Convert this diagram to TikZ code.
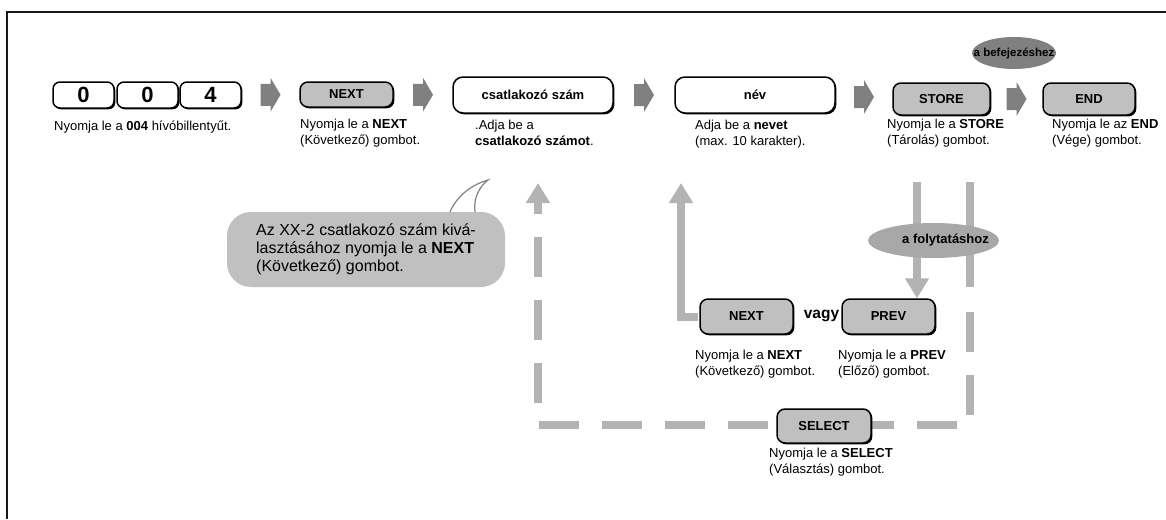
\documentclass[tikz,border=0pt]{standalone}
\usepackage{fontspec}
\setmainfont{Liberation Sans}
\usetikzlibrary{calc,arrows.meta,shadows,shapes.geometric}

\definecolor{btngray}{HTML}{C0C0C0}
\definecolor{chevgray}{HTML}{808080}
\definecolor{loopgray}{HTML}{B3B3B3}
\definecolor{ovaldark}{HTML}{808080}
\definecolor{ovallight}{HTML}{A8A8A8}

\begin{document}
\begin{tikzpicture}[x=1pt, y=-1pt,
    btn/.style={draw, line width=1.5pt, rounded corners=8pt, fill=btngray, inner sep=0pt,
        font=\fontsize{13}{13}\selectfont\bfseries,
        drop shadow={shadow xshift=1.4pt, shadow yshift=-1.4pt, fill=black, opacity=1}},
    keycap/.style={btn, fill=white, rounded corners=7pt, minimum width=61pt, minimum height=26pt,
        font=\fontsize{22}{22}\selectfont\bfseries},
    entry/.style={btn, fill=white, rounded corners=10pt, minimum width=160pt, minimum height=36pt},
    lbl/.style={anchor=north west, align=left, inner sep=0pt, font=\fontsize{13}{16}\selectfont,
        execute at begin node=\strut},
    oval/.style={ellipse, inner sep=0pt},
    fatline/.style={line width=8pt, loopgray},
    fathead/.style={-{Triangle[width=23pt,length=20pt]}}]
\useasboundingbox (0,0) rectangle (1166,519);
\draw[line width=2pt, black!90] (7,519) -- (7,12) -- (1166,12);

% back loop to the number entry
\coordinate (rtop) at (970,182);
\coordinate (rcut) at (970,287);
\coordinate (rgo) at (970,312);
\coordinate (rbot) at (970,425);
\coordinate (lbot) at (538,425);
\coordinate (lstub) at (538,210);
\coordinate (ltip) at (538,183);
\draw[fatline] (rtop) -- (rcut);
\draw[fatline, dash pattern=on 40pt off 23pt] (rgo) -- (rbot) -- (lbot) -- (lstub);
\draw[fatline, fathead] (lstub) -- (ltip);

% top row
\node[keycap] (k1) at (83.5,95) {0};
\node[keycap] (k2) at (147.5,95) {0};
\node[keycap] (k3) at (210.5,95) {4};
\node[btn, minimum width=93pt, minimum height=25pt] (next) at (346.5,94.5) {NEXT};
\node[entry] (csz) at (533,95) {csatlakozó szám};
\node[entry] (nev) at (755,95) {név};
\node[btn, minimum width=97pt, minimum height=32pt] (store) at (941.5,99) {STORE};
\node[btn, minimum width=92pt, minimum height=32pt] (endbtn) at (1089,99) {END};
\node[oval, fill=ovaldark, minimum width=84pt, minimum height=32pt,
    font=\fontsize{11.5}{11.5}\selectfont\bfseries] (fin) at (1014,53) {\makebox[0pt]{a befejezéshez}};

\foreach \a/\b in {k3/next, next/csz, csz/nev, nev/store, store/endbtn}
    \fill[chevgray] ($(\a.east)!0.5!(\b.west)$) ++(-10,-11) -- ++(10,0) -- ++(0,-6)
        -- ++(10,17) -- ++(-10,17) -- ++(0,-6) -- ++(-10,0) -- cycle;

\node[lbl] (l004) at (54,119) {Nyomja le a \textbf{004} hívóbillentyűt.};
\node[lbl] (lnext) at (300,119) {Nyomja le a \textbf{NEXT}\\(Következő) gombot.};
\node[lbl] (lcsz) at (475,120) {.Adja be a\\\textbf{csatlakozó számot}.};
\node[lbl] (lnev) at (695,120) {Adja be a \textbf{nevet}\\(max. 10 karakter).};
\node[lbl] (lstore) at (887,119) {Nyomja le a \textbf{STORE}\\(Tárolás) gombot.};
\node[lbl] (lend) at (1052,119) {Nyomja le az \textbf{END}\\(Vége) gombot.};

% callout
\node[fill=btngray, rounded corners=24pt, minimum width=278pt, minimum height=75pt, align=left,
    font=\fontsize{16}{18}\selectfont] (note) at (366,249.5)
    {Az XX-2 csatlakozó szám kivá-\\lasztásához nyomja le a \textbf{NEXT}\\(Következő) gombot.};
\coordinate (tip) at (488,180);
\draw[chevgray, line width=1.2pt] ($(note.north)+(84,0)$) .. controls +(8,-18) and +(-14,4) .. (tip)
    .. controls +(-8,6) and +(-2,-14) .. ($(note.north)+(109,0)$);

% lower row
\node[btn, minimum width=93pt, minimum height=35pt] (nextb) at (746.5,316.5) {NEXT};
\node[inner sep=0pt, font=\fontsize{15.5}{15.5}\selectfont\bfseries] (vagy) at (821.5,316) {vagy};
\node[btn, minimum width=93pt, minimum height=35pt] (prevb) at (888.5,316.5) {PREV};
\node[btn, minimum width=94pt, minimum height=34pt] (select) at (824,426) {SELECT};
\node[lbl] (lnextb) at (695,350) {Nyomja le a \textbf{NEXT}\\(Következő) gombot.};
\node[lbl] (lprevb) at (838,350) {Nyomja le a \textbf{PREV}\\(Előző) gombot.};
\node[lbl] (lselect) at (769,448) {Nyomja le a \textbf{SELECT}\\(Választás) gombot.};

\coordinate (dtop) at (917,182);
\coordinate (uptop) at (681,183);
\draw[fatline, fathead] (dtop) -- (dtop |- prevb.north);
\draw[fatline, fathead, shorten <=1pt] (nextb.west) -| (uptop);

\node[oval, fill=ovallight, minimum width=131pt, minimum height=35pt,
    font=\fontsize{13}{13}\selectfont\bfseries] (cont) at (933.5,240.5)
    {\makebox[0pt]{\hspace{24pt}a folytatáshoz}};
\end{tikzpicture}
\end{document}
